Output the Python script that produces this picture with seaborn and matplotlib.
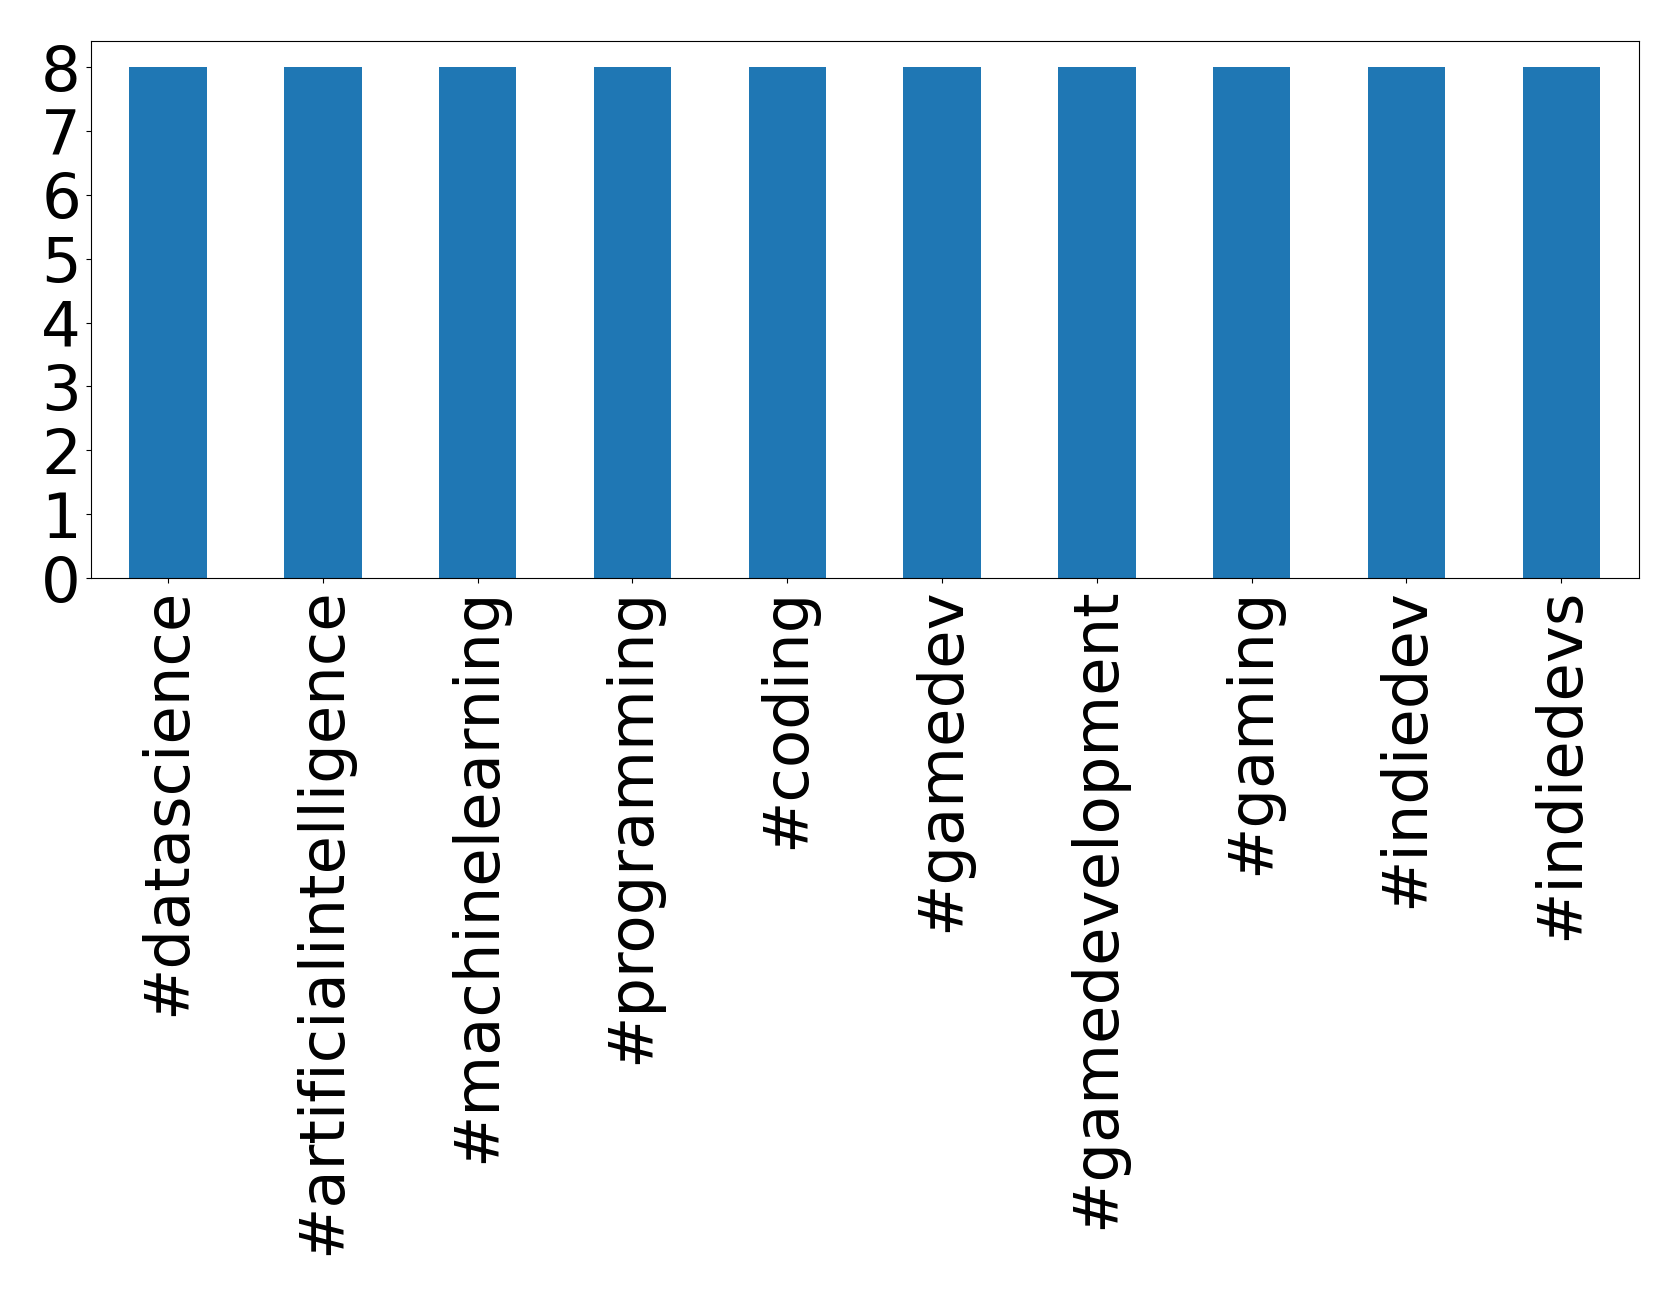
import matplotlib
matplotlib.use("Agg")
import matplotlib.pyplot as plt
import pandas as pd
import seaborn as sns

hashtags = [
    "#datascience",
    "#artificialintelligence",
    "#machinelearning",
    "#programming",
    "#coding",
    "#gamedev",
    "#gamedevelopment",
    "#gaming",
    "#indiedev",
    "#indiedevs",
]
counts = [8, 8, 8, 8, 8, 8, 8, 8, 8, 8]

df = pd.DataFrame({"hashtag": hashtags, "count": counts})

fig, ax = plt.subplots(figsize=(16.79, 12.96), dpi=100)
sns.barplot(
    data=df,
    x="hashtag",
    y="count",
    order=hashtags,
    color="#1f77b4",
    saturation=1,
    width=0.5,
    linewidth=0,
    ax=ax,
)

ax.set_xlabel("")
ax.set_ylabel("")
ax.set_ylim(0, 8.4)
ax.set_yticks(range(0, 9))
ax.tick_params(axis="both", labelsize=45)
plt.setp(ax.get_xticklabels(), rotation=90)

fig.subplots_adjust(left=0.054, right=0.976, top=0.968, bottom=0.554)
fig.savefig("out.png", dpi=100)
plt.close(fig)
